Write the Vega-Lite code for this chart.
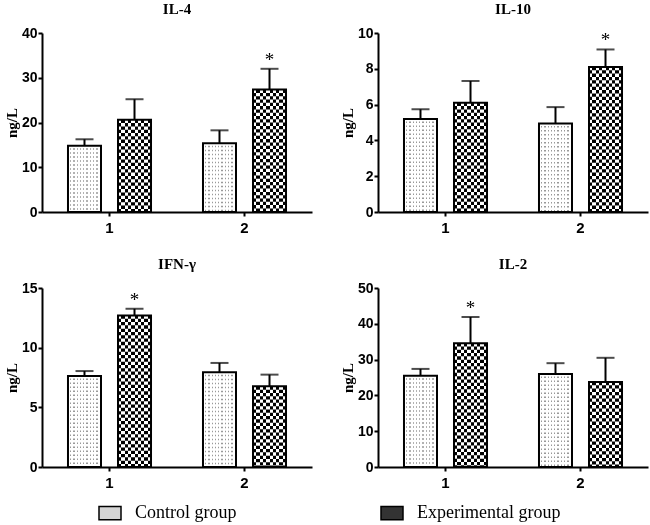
{
  "$schema": "https://vega.github.io/schema/vega-lite/v6.json",
  "padding": {"left": 4, "top": 2, "right": 2, "bottom": 0},
  "background": "white",
  "datasets": {
    "cyt": [
      {"panel": "IL-4", "time": "1", "group": "Control group", "value": 14.8, "upper": 16.25, "sig": ""},
      {"panel": "IL-4", "time": "1", "group": "Experimental group", "value": 20.6, "upper": 25.2, "sig": ""},
      {"panel": "IL-4", "time": "2", "group": "Control group", "value": 15.35, "upper": 18.25, "sig": ""},
      {"panel": "IL-4", "time": "2", "group": "Experimental group", "value": 27.35, "upper": 32.0, "sig": "*"},
      {"panel": "IL-10", "time": "1", "group": "Control group", "value": 5.2, "upper": 5.74, "sig": ""},
      {"panel": "IL-10", "time": "1", "group": "Experimental group", "value": 6.1, "upper": 7.32, "sig": ""},
      {"panel": "IL-10", "time": "2", "group": "Control group", "value": 4.95, "upper": 5.86, "sig": ""},
      {"panel": "IL-10", "time": "2", "group": "Experimental group", "value": 8.1, "upper": 9.08, "sig": "*"},
      {"panel": "IFN-γ", "time": "1", "group": "Control group", "value": 7.62, "upper": 8.04, "sig": ""},
      {"panel": "IFN-γ", "time": "1", "group": "Experimental group", "value": 12.7, "upper": 13.26, "sig": "*"},
      {"panel": "IFN-γ", "time": "2", "group": "Control group", "value": 7.93, "upper": 8.72, "sig": ""},
      {"panel": "IFN-γ", "time": "2", "group": "Experimental group", "value": 6.76, "upper": 7.74, "sig": ""},
      {"panel": "IL-2", "time": "1", "group": "Control group", "value": 25.5, "upper": 27.4, "sig": ""},
      {"panel": "IL-2", "time": "1", "group": "Experimental group", "value": 34.6, "upper": 41.9, "sig": "*"},
      {"panel": "IL-2", "time": "2", "group": "Control group", "value": 25.95, "upper": 29.0, "sig": ""},
      {"panel": "IL-2", "time": "2", "group": "Experimental group", "value": 23.75, "upper": 30.5, "sig": ""}
    ]
  },
  "data": {"name": "cyt"},
  "columns": 2,
  "spacing": {"column": 28, "row": 22},
  "concat": [
    {
      "width": 270, "height": 179,
      "title": "IL-4",
      "transform": [{"filter": "datum.panel == 'IL-4'"}],
      "encoding": {
        "x": {"field": "time", "type": "nominal", "title": null, "scale": {"paddingInner": 0.385, "paddingOuter": 0.1925}},
        "xOffset": {"field": "group", "type": "nominal", "scale": {"domain": ["Control group", "Experimental group"], "paddingInner": 0.34, "paddingOuter": 0}},
        "y": {"field": "value", "type": "quantitative", "title": "ng/L", "scale": {"domain": [0, 40]}, "axis": {"values": [0, 10, 20, 30, 40]}}
      },
      "layer": [
        {"mark": {"type": "bar"}, "encoding": {"color": {"field": "group", "type": "nominal", "scale": {"domain": ["Control group", "Experimental group"], "range": ["#d4d4d4", "#333333"]}, "legend": {"title": null, "orient": "none", "legendX": 56, "legendY": 468, "direction": "horizontal", "symbolType": "M-1,-0.6H1V0.6H-1Z", "symbolSize": 484, "symbolStrokeColor": "black", "symbolStrokeWidth": 1.5, "labelFont": "Liberation Serif", "labelFontSize": 18, "labelColor": "black", "labelOffset": 13, "columnPadding": 141}}}},
        {"transform": [{"filter": "datum.group == 'Control group'"}], "mark": {"type": "bar", "fill": {"gradient": "linear", "stops": [{"offset": 0, "color": "#fff"}, {"offset": 0.06, "color": "#fff"}, {"offset": 0.06, "color": "#999"}, {"offset": 0.1, "color": "#999"}, {"offset": 0.1, "color": "#fff"}, {"offset": 0.16, "color": "#fff"}, {"offset": 0.16, "color": "#999"}, {"offset": 0.2, "color": "#999"}, {"offset": 0.2, "color": "#fff"}, {"offset": 0.26, "color": "#fff"}, {"offset": 0.26, "color": "#999"}, {"offset": 0.3, "color": "#999"}, {"offset": 0.3, "color": "#fff"}, {"offset": 0.36, "color": "#fff"}, {"offset": 0.36, "color": "#999"}, {"offset": 0.4, "color": "#999"}, {"offset": 0.4, "color": "#fff"}, {"offset": 0.46, "color": "#fff"}, {"offset": 0.46, "color": "#999"}, {"offset": 0.5, "color": "#999"}, {"offset": 0.5, "color": "#fff"}, {"offset": 0.56, "color": "#fff"}, {"offset": 0.56, "color": "#999"}, {"offset": 0.6, "color": "#999"}, {"offset": 0.6, "color": "#fff"}, {"offset": 0.66, "color": "#fff"}, {"offset": 0.66, "color": "#999"}, {"offset": 0.7, "color": "#999"}, {"offset": 0.7, "color": "#fff"}, {"offset": 0.76, "color": "#fff"}, {"offset": 0.76, "color": "#999"}, {"offset": 0.8, "color": "#999"}, {"offset": 0.8, "color": "#fff"}, {"offset": 0.86, "color": "#fff"}, {"offset": 0.86, "color": "#999"}, {"offset": 0.9, "color": "#999"}, {"offset": 0.9, "color": "#fff"}, {"offset": 1, "color": "#fff"}]}}},
        {"transform": [{"filter": "datum.group == 'Control group'"}], "mark": {"type": "rule", "stroke": "white", "strokeWidth": 33, "strokeDash": [2.5, 1.5]}, "encoding": {"y2": {"datum": 0}}},
        {"transform": [{"filter": "datum.group == 'Experimental group'"}], "mark": {"type": "bar", "fill": {"gradient": "linear", "stops": [{"offset": 0, "color": "#000"}, {"offset": 0.1, "color": "#000"}, {"offset": 0.1, "color": "#fff"}, {"offset": 0.2, "color": "#fff"}, {"offset": 0.2, "color": "#000"}, {"offset": 0.3, "color": "#000"}, {"offset": 0.3, "color": "#fff"}, {"offset": 0.4, "color": "#fff"}, {"offset": 0.4, "color": "#000"}, {"offset": 0.5, "color": "#000"}, {"offset": 0.5, "color": "#fff"}, {"offset": 0.6, "color": "#fff"}, {"offset": 0.6, "color": "#000"}, {"offset": 0.7, "color": "#000"}, {"offset": 0.7, "color": "#fff"}, {"offset": 0.8, "color": "#fff"}, {"offset": 0.8, "color": "#000"}, {"offset": 0.9, "color": "#000"}, {"offset": 0.9, "color": "#fff"}, {"offset": 1, "color": "#fff"}]}}},
        {"transform": [{"filter": "datum.group == 'Experimental group'"}], "mark": {"type": "rule", "stroke": "white", "strokeWidth": 33, "strokeDash": [3.3, 3.3], "blend": "difference"}, "encoding": {"y2": {"datum": 0}}},
        {"mark": {"type": "bar", "fillOpacity": 0, "stroke": "black", "strokeWidth": 2}},
        {"mark": {"type": "rule", "color": "black", "strokeWidth": 2}, "encoding": {"y2": {"field": "upper"}}},
        {"mark": {"type": "tick", "color": "black", "thickness": 2, "size": 18}, "encoding": {"y": {"field": "upper", "type": "quantitative", "title": "ng/L"}}},
        {"mark": {"type": "text", "font": "Liberation Serif", "fontSize": 19, "baseline": "alphabetic", "dy": -3, "color": "black"}, "encoding": {"y": {"field": "upper", "type": "quantitative", "title": "ng/L"}, "text": {"field": "sig"}}}
      ]
    },
    {
      "width": 270, "height": 179,
      "title": "IL-10",
      "transform": [{"filter": "datum.panel == 'IL-10'"}],
      "encoding": {
        "x": {"field": "time", "type": "nominal", "title": null, "scale": {"paddingInner": 0.385, "paddingOuter": 0.1925}},
        "xOffset": {"field": "group", "type": "nominal", "scale": {"domain": ["Control group", "Experimental group"], "paddingInner": 0.34, "paddingOuter": 0}},
        "y": {"field": "value", "type": "quantitative", "title": "ng/L", "scale": {"domain": [0, 10]}, "axis": {"values": [0, 2, 4, 6, 8, 10]}}
      },
      "layer": [
        {"mark": {"type": "bar"}, "encoding": {"color": {"field": "group", "type": "nominal", "scale": {"domain": ["Control group", "Experimental group"], "range": ["#d4d4d4", "#333333"]}, "legend": {"title": null, "orient": "none", "legendX": 56, "legendY": 468, "direction": "horizontal", "symbolType": "M-1,-0.6H1V0.6H-1Z", "symbolSize": 484, "symbolStrokeColor": "black", "symbolStrokeWidth": 1.5, "labelFont": "Liberation Serif", "labelFontSize": 18, "labelColor": "black", "labelOffset": 13, "columnPadding": 141}}}},
        {"transform": [{"filter": "datum.group == 'Control group'"}], "mark": {"type": "bar", "fill": {"gradient": "linear", "stops": [{"offset": 0, "color": "#fff"}, {"offset": 0.06, "color": "#fff"}, {"offset": 0.06, "color": "#999"}, {"offset": 0.1, "color": "#999"}, {"offset": 0.1, "color": "#fff"}, {"offset": 0.16, "color": "#fff"}, {"offset": 0.16, "color": "#999"}, {"offset": 0.2, "color": "#999"}, {"offset": 0.2, "color": "#fff"}, {"offset": 0.26, "color": "#fff"}, {"offset": 0.26, "color": "#999"}, {"offset": 0.3, "color": "#999"}, {"offset": 0.3, "color": "#fff"}, {"offset": 0.36, "color": "#fff"}, {"offset": 0.36, "color": "#999"}, {"offset": 0.4, "color": "#999"}, {"offset": 0.4, "color": "#fff"}, {"offset": 0.46, "color": "#fff"}, {"offset": 0.46, "color": "#999"}, {"offset": 0.5, "color": "#999"}, {"offset": 0.5, "color": "#fff"}, {"offset": 0.56, "color": "#fff"}, {"offset": 0.56, "color": "#999"}, {"offset": 0.6, "color": "#999"}, {"offset": 0.6, "color": "#fff"}, {"offset": 0.66, "color": "#fff"}, {"offset": 0.66, "color": "#999"}, {"offset": 0.7, "color": "#999"}, {"offset": 0.7, "color": "#fff"}, {"offset": 0.76, "color": "#fff"}, {"offset": 0.76, "color": "#999"}, {"offset": 0.8, "color": "#999"}, {"offset": 0.8, "color": "#fff"}, {"offset": 0.86, "color": "#fff"}, {"offset": 0.86, "color": "#999"}, {"offset": 0.9, "color": "#999"}, {"offset": 0.9, "color": "#fff"}, {"offset": 1, "color": "#fff"}]}}},
        {"transform": [{"filter": "datum.group == 'Control group'"}], "mark": {"type": "rule", "stroke": "white", "strokeWidth": 33, "strokeDash": [2.5, 1.5]}, "encoding": {"y2": {"datum": 0}}},
        {"transform": [{"filter": "datum.group == 'Experimental group'"}], "mark": {"type": "bar", "fill": {"gradient": "linear", "stops": [{"offset": 0, "color": "#000"}, {"offset": 0.1, "color": "#000"}, {"offset": 0.1, "color": "#fff"}, {"offset": 0.2, "color": "#fff"}, {"offset": 0.2, "color": "#000"}, {"offset": 0.3, "color": "#000"}, {"offset": 0.3, "color": "#fff"}, {"offset": 0.4, "color": "#fff"}, {"offset": 0.4, "color": "#000"}, {"offset": 0.5, "color": "#000"}, {"offset": 0.5, "color": "#fff"}, {"offset": 0.6, "color": "#fff"}, {"offset": 0.6, "color": "#000"}, {"offset": 0.7, "color": "#000"}, {"offset": 0.7, "color": "#fff"}, {"offset": 0.8, "color": "#fff"}, {"offset": 0.8, "color": "#000"}, {"offset": 0.9, "color": "#000"}, {"offset": 0.9, "color": "#fff"}, {"offset": 1, "color": "#fff"}]}}},
        {"transform": [{"filter": "datum.group == 'Experimental group'"}], "mark": {"type": "rule", "stroke": "white", "strokeWidth": 33, "strokeDash": [3.3, 3.3], "blend": "difference"}, "encoding": {"y2": {"datum": 0}}},
        {"mark": {"type": "bar", "fillOpacity": 0, "stroke": "black", "strokeWidth": 2}},
        {"mark": {"type": "rule", "color": "black", "strokeWidth": 2}, "encoding": {"y2": {"field": "upper"}}},
        {"mark": {"type": "tick", "color": "black", "thickness": 2, "size": 18}, "encoding": {"y": {"field": "upper", "type": "quantitative", "title": "ng/L"}}},
        {"mark": {"type": "text", "font": "Liberation Serif", "fontSize": 19, "baseline": "alphabetic", "dy": -3, "color": "black"}, "encoding": {"y": {"field": "upper", "type": "quantitative", "title": "ng/L"}, "text": {"field": "sig"}}}
      ]
    },
    {
      "width": 270, "height": 179,
      "title": "IFN-γ",
      "transform": [{"filter": "datum.panel == 'IFN-γ'"}],
      "encoding": {
        "x": {"field": "time", "type": "nominal", "title": null, "scale": {"paddingInner": 0.385, "paddingOuter": 0.1925}},
        "xOffset": {"field": "group", "type": "nominal", "scale": {"domain": ["Control group", "Experimental group"], "paddingInner": 0.34, "paddingOuter": 0}},
        "y": {"field": "value", "type": "quantitative", "title": "ng/L", "scale": {"domain": [0, 15]}, "axis": {"values": [0, 5, 10, 15]}}
      },
      "layer": [
        {"mark": {"type": "bar"}, "encoding": {"color": {"field": "group", "type": "nominal", "scale": {"domain": ["Control group", "Experimental group"], "range": ["#d4d4d4", "#333333"]}, "legend": {"title": null, "orient": "none", "legendX": 56, "legendY": 468, "direction": "horizontal", "symbolType": "M-1,-0.6H1V0.6H-1Z", "symbolSize": 484, "symbolStrokeColor": "black", "symbolStrokeWidth": 1.5, "labelFont": "Liberation Serif", "labelFontSize": 18, "labelColor": "black", "labelOffset": 13, "columnPadding": 141}}}},
        {"transform": [{"filter": "datum.group == 'Control group'"}], "mark": {"type": "bar", "fill": {"gradient": "linear", "stops": [{"offset": 0, "color": "#fff"}, {"offset": 0.06, "color": "#fff"}, {"offset": 0.06, "color": "#999"}, {"offset": 0.1, "color": "#999"}, {"offset": 0.1, "color": "#fff"}, {"offset": 0.16, "color": "#fff"}, {"offset": 0.16, "color": "#999"}, {"offset": 0.2, "color": "#999"}, {"offset": 0.2, "color": "#fff"}, {"offset": 0.26, "color": "#fff"}, {"offset": 0.26, "color": "#999"}, {"offset": 0.3, "color": "#999"}, {"offset": 0.3, "color": "#fff"}, {"offset": 0.36, "color": "#fff"}, {"offset": 0.36, "color": "#999"}, {"offset": 0.4, "color": "#999"}, {"offset": 0.4, "color": "#fff"}, {"offset": 0.46, "color": "#fff"}, {"offset": 0.46, "color": "#999"}, {"offset": 0.5, "color": "#999"}, {"offset": 0.5, "color": "#fff"}, {"offset": 0.56, "color": "#fff"}, {"offset": 0.56, "color": "#999"}, {"offset": 0.6, "color": "#999"}, {"offset": 0.6, "color": "#fff"}, {"offset": 0.66, "color": "#fff"}, {"offset": 0.66, "color": "#999"}, {"offset": 0.7, "color": "#999"}, {"offset": 0.7, "color": "#fff"}, {"offset": 0.76, "color": "#fff"}, {"offset": 0.76, "color": "#999"}, {"offset": 0.8, "color": "#999"}, {"offset": 0.8, "color": "#fff"}, {"offset": 0.86, "color": "#fff"}, {"offset": 0.86, "color": "#999"}, {"offset": 0.9, "color": "#999"}, {"offset": 0.9, "color": "#fff"}, {"offset": 1, "color": "#fff"}]}}},
        {"transform": [{"filter": "datum.group == 'Control group'"}], "mark": {"type": "rule", "stroke": "white", "strokeWidth": 33, "strokeDash": [2.5, 1.5]}, "encoding": {"y2": {"datum": 0}}},
        {"transform": [{"filter": "datum.group == 'Experimental group'"}], "mark": {"type": "bar", "fill": {"gradient": "linear", "stops": [{"offset": 0, "color": "#000"}, {"offset": 0.1, "color": "#000"}, {"offset": 0.1, "color": "#fff"}, {"offset": 0.2, "color": "#fff"}, {"offset": 0.2, "color": "#000"}, {"offset": 0.3, "color": "#000"}, {"offset": 0.3, "color": "#fff"}, {"offset": 0.4, "color": "#fff"}, {"offset": 0.4, "color": "#000"}, {"offset": 0.5, "color": "#000"}, {"offset": 0.5, "color": "#fff"}, {"offset": 0.6, "color": "#fff"}, {"offset": 0.6, "color": "#000"}, {"offset": 0.7, "color": "#000"}, {"offset": 0.7, "color": "#fff"}, {"offset": 0.8, "color": "#fff"}, {"offset": 0.8, "color": "#000"}, {"offset": 0.9, "color": "#000"}, {"offset": 0.9, "color": "#fff"}, {"offset": 1, "color": "#fff"}]}}},
        {"transform": [{"filter": "datum.group == 'Experimental group'"}], "mark": {"type": "rule", "stroke": "white", "strokeWidth": 33, "strokeDash": [3.3, 3.3], "blend": "difference"}, "encoding": {"y2": {"datum": 0}}},
        {"mark": {"type": "bar", "fillOpacity": 0, "stroke": "black", "strokeWidth": 2}},
        {"mark": {"type": "rule", "color": "black", "strokeWidth": 2}, "encoding": {"y2": {"field": "upper"}}},
        {"mark": {"type": "tick", "color": "black", "thickness": 2, "size": 18}, "encoding": {"y": {"field": "upper", "type": "quantitative", "title": "ng/L"}}},
        {"mark": {"type": "text", "font": "Liberation Serif", "fontSize": 19, "baseline": "alphabetic", "dy": -3, "color": "black"}, "encoding": {"y": {"field": "upper", "type": "quantitative", "title": "ng/L"}, "text": {"field": "sig"}}}
      ]
    },
    {
      "width": 270, "height": 179,
      "title": "IL-2",
      "transform": [{"filter": "datum.panel == 'IL-2'"}],
      "encoding": {
        "x": {"field": "time", "type": "nominal", "title": null, "scale": {"paddingInner": 0.385, "paddingOuter": 0.1925}},
        "xOffset": {"field": "group", "type": "nominal", "scale": {"domain": ["Control group", "Experimental group"], "paddingInner": 0.34, "paddingOuter": 0}},
        "y": {"field": "value", "type": "quantitative", "title": "ng/L", "scale": {"domain": [0, 50]}, "axis": {"values": [0, 10, 20, 30, 40, 50]}}
      },
      "layer": [
        {"mark": {"type": "bar"}, "encoding": {"color": {"field": "group", "type": "nominal", "scale": {"domain": ["Control group", "Experimental group"], "range": ["#d4d4d4", "#333333"]}, "legend": {"title": null, "orient": "none", "legendX": 56, "legendY": 468, "direction": "horizontal", "symbolType": "M-1,-0.6H1V0.6H-1Z", "symbolSize": 484, "symbolStrokeColor": "black", "symbolStrokeWidth": 1.5, "labelFont": "Liberation Serif", "labelFontSize": 18, "labelColor": "black", "labelOffset": 13, "columnPadding": 141}}}},
        {"transform": [{"filter": "datum.group == 'Control group'"}], "mark": {"type": "bar", "fill": {"gradient": "linear", "stops": [{"offset": 0, "color": "#fff"}, {"offset": 0.06, "color": "#fff"}, {"offset": 0.06, "color": "#999"}, {"offset": 0.1, "color": "#999"}, {"offset": 0.1, "color": "#fff"}, {"offset": 0.16, "color": "#fff"}, {"offset": 0.16, "color": "#999"}, {"offset": 0.2, "color": "#999"}, {"offset": 0.2, "color": "#fff"}, {"offset": 0.26, "color": "#fff"}, {"offset": 0.26, "color": "#999"}, {"offset": 0.3, "color": "#999"}, {"offset": 0.3, "color": "#fff"}, {"offset": 0.36, "color": "#fff"}, {"offset": 0.36, "color": "#999"}, {"offset": 0.4, "color": "#999"}, {"offset": 0.4, "color": "#fff"}, {"offset": 0.46, "color": "#fff"}, {"offset": 0.46, "color": "#999"}, {"offset": 0.5, "color": "#999"}, {"offset": 0.5, "color": "#fff"}, {"offset": 0.56, "color": "#fff"}, {"offset": 0.56, "color": "#999"}, {"offset": 0.6, "color": "#999"}, {"offset": 0.6, "color": "#fff"}, {"offset": 0.66, "color": "#fff"}, {"offset": 0.66, "color": "#999"}, {"offset": 0.7, "color": "#999"}, {"offset": 0.7, "color": "#fff"}, {"offset": 0.76, "color": "#fff"}, {"offset": 0.76, "color": "#999"}, {"offset": 0.8, "color": "#999"}, {"offset": 0.8, "color": "#fff"}, {"offset": 0.86, "color": "#fff"}, {"offset": 0.86, "color": "#999"}, {"offset": 0.9, "color": "#999"}, {"offset": 0.9, "color": "#fff"}, {"offset": 1, "color": "#fff"}]}}},
        {"transform": [{"filter": "datum.group == 'Control group'"}], "mark": {"type": "rule", "stroke": "white", "strokeWidth": 33, "strokeDash": [2.5, 1.5]}, "encoding": {"y2": {"datum": 0}}},
        {"transform": [{"filter": "datum.group == 'Experimental group'"}], "mark": {"type": "bar", "fill": {"gradient": "linear", "stops": [{"offset": 0, "color": "#000"}, {"offset": 0.1, "color": "#000"}, {"offset": 0.1, "color": "#fff"}, {"offset": 0.2, "color": "#fff"}, {"offset": 0.2, "color": "#000"}, {"offset": 0.3, "color": "#000"}, {"offset": 0.3, "color": "#fff"}, {"offset": 0.4, "color": "#fff"}, {"offset": 0.4, "color": "#000"}, {"offset": 0.5, "color": "#000"}, {"offset": 0.5, "color": "#fff"}, {"offset": 0.6, "color": "#fff"}, {"offset": 0.6, "color": "#000"}, {"offset": 0.7, "color": "#000"}, {"offset": 0.7, "color": "#fff"}, {"offset": 0.8, "color": "#fff"}, {"offset": 0.8, "color": "#000"}, {"offset": 0.9, "color": "#000"}, {"offset": 0.9, "color": "#fff"}, {"offset": 1, "color": "#fff"}]}}},
        {"transform": [{"filter": "datum.group == 'Experimental group'"}], "mark": {"type": "rule", "stroke": "white", "strokeWidth": 33, "strokeDash": [3.3, 3.3], "blend": "difference"}, "encoding": {"y2": {"datum": 0}}},
        {"mark": {"type": "bar", "fillOpacity": 0, "stroke": "black", "strokeWidth": 2}},
        {"mark": {"type": "rule", "color": "black", "strokeWidth": 2}, "encoding": {"y2": {"field": "upper"}}},
        {"mark": {"type": "tick", "color": "black", "thickness": 2, "size": 18}, "encoding": {"y": {"field": "upper", "type": "quantitative", "title": "ng/L"}}},
        {"mark": {"type": "text", "font": "Liberation Serif", "fontSize": 19, "baseline": "alphabetic", "dy": -3, "color": "black"}, "encoding": {"y": {"field": "upper", "type": "quantitative", "title": "ng/L"}, "text": {"field": "sig"}}}
      ]
    }
  ],
  "config": {
    "view": {"stroke": null},
    "axis": {"domainColor": "black", "domainWidth": 2, "tickColor": "black", "tickWidth": 2, "tickSize": 4, "labelFont": "Liberation Sans", "labelFontWeight": "bold", "labelFontSize": 14, "labelColor": "black", "titleFont": "Liberation Serif", "titleFontWeight": "bold", "titleFontSize": 15, "titleColor": "black", "grid": false},
    "axisX": {"labelAngle": 0, "labelPadding": 4, "labelFontSize": 15},
    "axisY": {"titlePadding": 2, "labelPadding": 1},
    "title": {"font": "Liberation Serif", "fontWeight": "bold", "fontSize": 15, "color": "black", "offset": 9}
  }
}
